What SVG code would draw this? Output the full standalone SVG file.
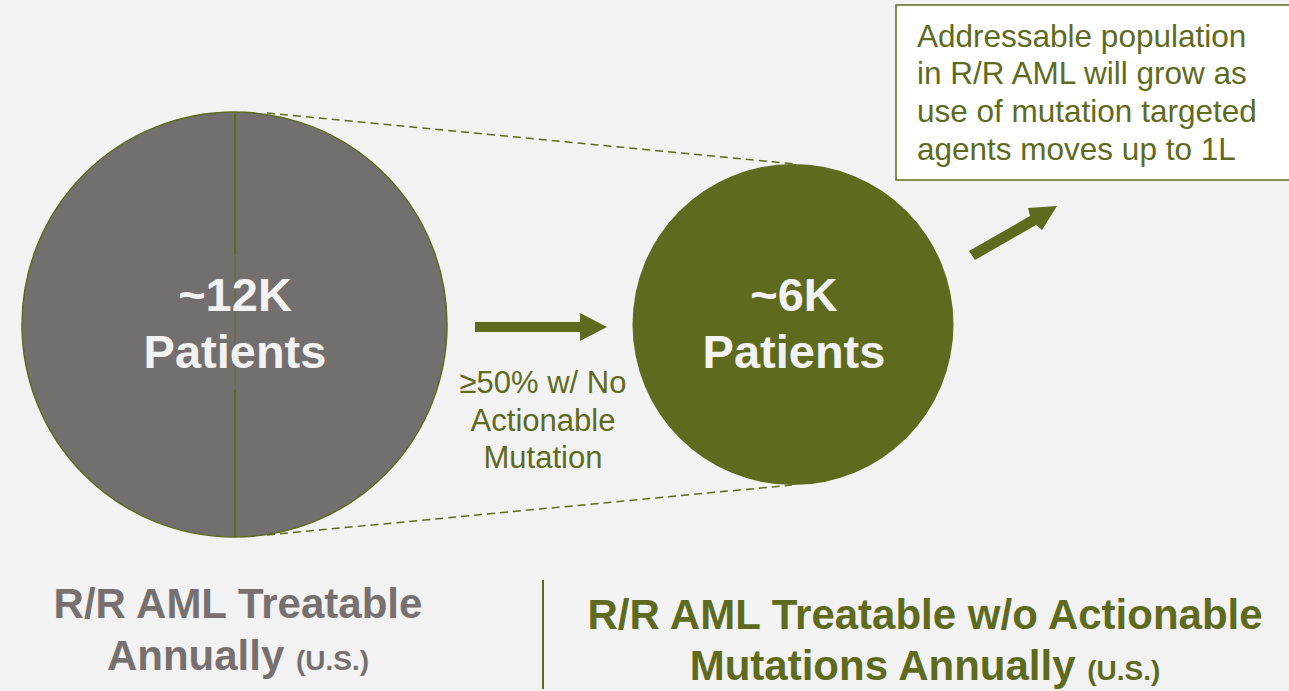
<svg xmlns="http://www.w3.org/2000/svg" width="1289" height="691" viewBox="0 0 1289 691">
<style>
.bg{fill:#f2f2f2}
.olive{fill:#5e6b1e}
text{font-family:"Liberation Sans",Arial,Helvetica,sans-serif}
.big{font-weight:bold;font-size:47px;fill:#f2f2f2;text-anchor:middle}
.lbl{font-size:31px;fill:#5e6b1e;text-anchor:middle}
.note{font-size:31.5px;fill:#5e6b1e}
.cap{font-weight:bold;font-size:42px;text-anchor:middle}
.sm{font-size:28px}
.dash{stroke:#5e6b1e;stroke-width:1.5;stroke-dasharray:8 5;fill:none}
</style>
<rect class="bg" x="0" y="0" width="1289" height="691"/>
<g id="connectors">
<line class="dash" x1="267" y1="113" x2="795" y2="164"/>
<line class="dash" x1="267" y1="535" x2="792" y2="485"/>
<path class="olive" d="M475 322 H580 V313 L607 327 L580 341 V332 H475 Z"/>
<path class="olive" d="M969 251 L1030 216 L1028 208 L1057 206 L1042 230 L1036 225 L975 260 Z"/>
</g>
<g id="node-12k">
<circle cx="234.5" cy="324.5" r="212.5" fill="#736f6e" stroke="#5e6b1e" stroke-width="1.5"/>
<line x1="235" y1="112" x2="235" y2="255" stroke="#5e6b1e" stroke-width="2"/>
<line x1="235" y1="255" x2="235" y2="390" stroke="#6a6c50" stroke-width="2"/>
<line x1="235" y1="390" x2="235" y2="537" stroke="#5e6b1e" stroke-width="2"/>
<text class="big" x="235" y="311">~12K</text>
<text class="big" x="235" y="368">Patients</text>
</g>
<g id="node-6k">
<circle cx="793" cy="324.5" r="160.5" class="olive"/>
<text class="big" x="794" y="311">~6K</text>
<text class="big" x="794" y="368">Patients</text>
</g>
<g id="label-mid">
<text class="lbl" x="543" y="393">≥50% w/ No</text>
<text class="lbl" x="543" y="431">Actionable</text>
<text class="lbl" x="543" y="468">Mutation</text>
</g>
<g id="note-box">
<rect x="896" y="5" width="400" height="175" fill="#ffffff" stroke="#5e6b1e" stroke-width="1.5"/>
<text class="note" x="917" y="47">Addressable population</text>
<text class="note" x="917" y="84">in R/R AML will grow as</text>
<text class="note" x="917" y="122">use of mutation targeted</text>
<text class="note" x="917" y="160">agents moves up to 1L</text>
</g>
<g id="caption-left">
<text class="cap" x="238" y="618" fill="#767170">R/R AML Treatable</text>
<text class="cap" x="238" y="670" fill="#767170">Annually <tspan class="sm">(U.S.)</tspan></text>
</g>
<line x1="543" y1="580" x2="543" y2="689" stroke="#5e6b1e" stroke-width="2"/>
<g id="caption-right">
<text class="cap" x="925" y="629" fill="#5e6b1e">R/R AML Treatable w/o Actionable</text>
<text class="cap" x="925" y="680" fill="#5e6b1e">Mutations Annually <tspan class="sm">(U.S.)</tspan></text>
</g>
</svg>
